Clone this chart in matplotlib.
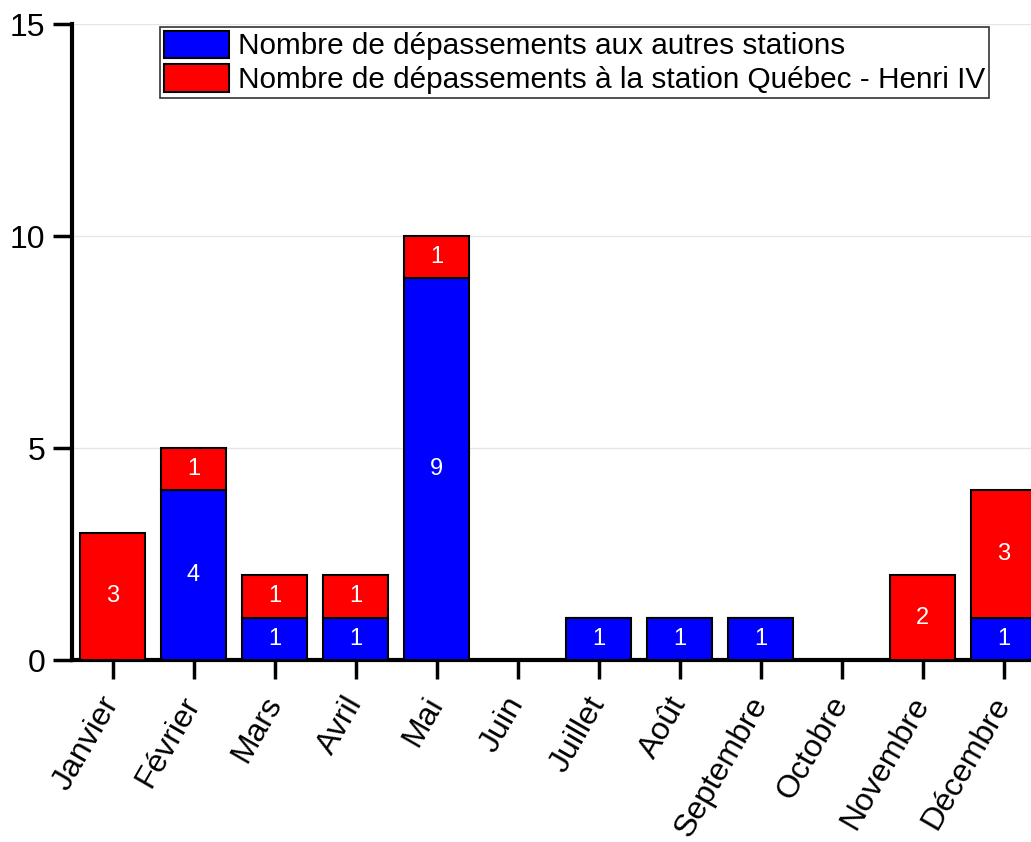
import matplotlib.pyplot as plt
import numpy as np

plt.rcParams['font.family'] = ['Liberation Sans', 'DejaVu Sans']

months = ['Janvier', 'Février', 'Mars', 'Avril', 'Mai', 'Juin', 'Juillet',
          'Août', 'Septembre', 'Octobre', 'Novembre', 'Décembre']
autres_stations = [0, 4, 1, 1, 9, 0, 1, 1, 1, 0, 0, 1]
henri_iv = [3, 1, 1, 1, 1, 0, 0, 0, 0, 0, 2, 3]

label_autres = 'Nombre de dépassements aux autres stations'
label_henri = 'Nombre de dépassements à la station Québec - Henri IV'

fig = plt.figure(figsize=(10.31, 8.42), dpi=100)
ax = fig.add_axes([72 / 1031, 182 / 842, 972 / 1031, 636 / 842])

x = np.arange(len(months))
b1 = ax.bar(x, autres_stations, width=0.8, color='#0000ff', edgecolor='black',
            linewidth=1.5, label=label_autres, zorder=3)
b2 = ax.bar(x, henri_iv, width=0.8, bottom=autres_stations, color='#ff0000',
            edgecolor='black', linewidth=1.5, label=label_henri, zorder=3)

# value labels inside each non-empty segment
for bars in (b1, b2):
    labels = [str(int(r.get_height())) if r.get_height() > 0 else '' for r in bars]
    ax.bar_label(bars, labels=labels, label_type='center', color='white',
                 fontsize=17, zorder=4)

ax.set_xlim(-0.5, 11.5)
ax.set_ylim(0, 15)
ax.set_yticks([0, 5, 10, 15])
ax.set_xticks(x)
ax.set_xticklabels(months, rotation=60, ha='right', va='center',
                   rotation_mode='anchor', fontsize=23)

ax.yaxis.grid(True, color='#e6e6e6', linewidth=1, zorder=0)
ax.set_axisbelow(True)

for side in ('top', 'right'):
    ax.spines[side].set_visible(False)
for side in ('left', 'bottom'):
    ax.spines[side].set_linewidth(3)

ax.tick_params(axis='both', direction='out', length=14, width=2.5)
ax.tick_params(axis='y', pad=5, labelsize=23)
ax.tick_params(axis='x', pad=14)

leg = ax.legend(loc='upper left', bbox_to_anchor=(160 / 1031, 1 - 27 / 842),
                bbox_transform=fig.transFigure, fontsize=21.4, frameon=True,
                fancybox=False, edgecolor='black', handlelength=2.2,
                handleheight=1.05, handletextpad=0.3, borderpad=0.12,
                labelspacing=0.12, borderaxespad=0)
leg.get_frame().set_linewidth(1.2)

fig.savefig('out.png', dpi=100)
